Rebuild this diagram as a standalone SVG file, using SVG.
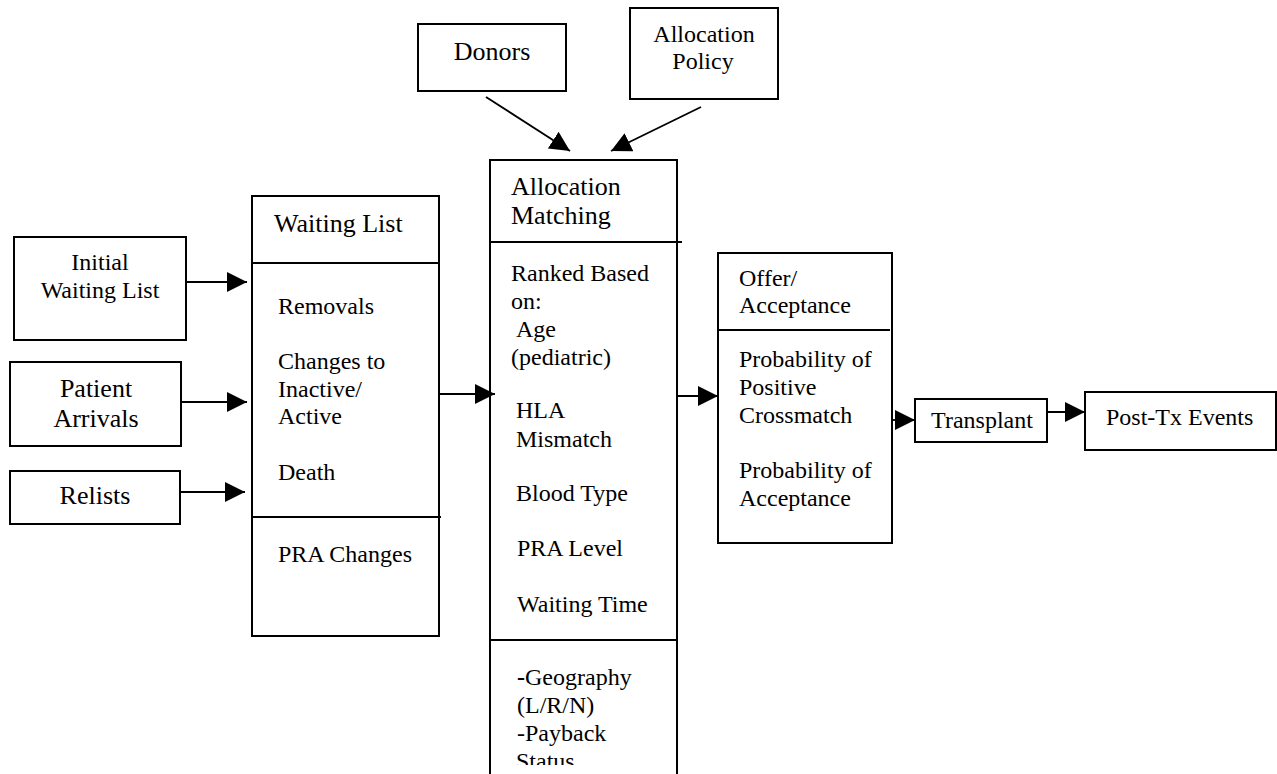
<svg xmlns="http://www.w3.org/2000/svg" width="1277" height="774" viewBox="0 0 1277 774">
<style>
.box{fill:none;stroke:#000;stroke-width:2}
.ln{fill:none;stroke:#000;stroke-width:1.8}
text{font-family:"Liberation Serif","Times New Roman",serif;fill:#000;font-size:24px}
.big{font-size:26px}
.mid{text-anchor:middle}
</style>
<defs>
<marker id="ah" markerUnits="userSpaceOnUse" markerWidth="20" markerHeight="20" refX="20" refY="10" orient="auto">
<path d="M0,0 L20,10 L0,20 z" fill="#000"/>
</marker>
<clipPath id="amclip"><rect x="480" y="640" width="210" height="125"/></clipPath>
</defs>
<rect width="1277" height="774" fill="#fff"/>

<g id="initial-waiting-list">
<rect class="box" x="14" y="237" width="172" height="103"/>
<text class="mid" x="100" y="270">Initial</text>
<text class="mid" x="100" y="298">Waiting List</text>
</g>

<g id="patient-arrivals">
<rect class="box" x="10" y="362" width="171" height="84"/>
<text class="mid big" x="96" y="397">Patient</text>
<text class="mid big" x="96" y="427">Arrivals</text>
</g>

<g id="relists">
<rect class="box" x="10" y="471" width="170" height="53"/>
<text class="mid big" x="95" y="504">Relists</text>
</g>

<g id="waiting-list">
<rect class="box" x="252" y="196" width="187" height="440"/>
<line class="box" x1="252" y1="263" x2="439" y2="263"/>
<line class="box" x1="252" y1="517" x2="441" y2="517"/>
<text class="big" x="274" y="232">Waiting List</text>
<text x="278" y="314">Removals</text>
<text x="278" y="369">Changes to</text>
<text x="278" y="397">Inactive/</text>
<text x="278" y="424">Active</text>
<text x="278" y="480">Death</text>
<text x="278" y="562">PRA Changes</text>
</g>

<g id="donors">
<rect class="box" x="418" y="24" width="148" height="67"/>
<text class="mid big" x="492" y="60">Donors</text>
</g>

<g id="allocation-policy">
<rect class="box" x="630" y="8" width="148" height="91"/>
<text class="mid" x="704" y="42">Allocation</text>
<text class="mid" x="703" y="69">Policy</text>
</g>

<g id="allocation-matching">
<path class="box" d="M490,774 V160 H677 V774"/>
<line class="box" x1="490" y1="242" x2="682" y2="242"/>
<line class="box" x1="490" y1="640" x2="678" y2="640"/>
<text class="big" x="511" y="195">Allocation</text>
<text class="big" x="511" y="224">Matching</text>
<text x="511" y="281">Ranked Based</text>
<text x="511" y="309">on:</text>
<text x="516" y="337">Age</text>
<text x="511" y="365">(pediatric)</text>
<text x="516" y="418">HLA</text>
<text x="516" y="447">Mismatch</text>
<text x="516" y="501">Blood Type</text>
<text x="517" y="556">PRA Level</text>
<text x="517" y="612">Waiting Time</text>
<g clip-path="url(#amclip)">
<text x="517" y="685"><tspan font-weight="bold">-</tspan>Geography</text>
<text x="517" y="713">(L/R/N)</text>
<text x="517" y="741">-Payback</text>
<text x="516" y="769">Status</text>
</g>
</g>

<g id="offer-acceptance">
<rect class="box" x="718" y="253" width="174" height="290"/>
<line class="box" x1="718" y1="330" x2="890" y2="330"/>
<text x="739" y="286">Offer/</text>
<text x="739" y="313">Acceptance</text>
<text x="739" y="367">Probability of</text>
<text x="739" y="395">Positive</text>
<text x="739" y="423">Crossmatch</text>
<text x="739" y="478">Probability of</text>
<text x="739" y="506">Acceptance</text>
</g>

<g id="transplant">
<rect class="box" x="915" y="399" width="132" height="43"/>
<text class="mid" x="982" y="428" font-size="21">Transplant</text>
</g>

<g id="post-tx-events">
<rect class="box" x="1085" y="392" width="191" height="58"/>
<text x="1106" y="425">Post-Tx Events</text>
</g>

<g id="connectors">
<line class="ln" x1="186" y1="282" x2="247" y2="282" marker-end="url(#ah)"/>
<line class="ln" x1="181" y1="402" x2="247" y2="402" marker-end="url(#ah)"/>
<line class="ln" x1="180" y1="492" x2="245" y2="492" marker-end="url(#ah)"/>
<line class="ln" x1="439" y1="394" x2="495" y2="394" marker-end="url(#ah)"/>
<line class="ln" x1="486" y1="97" x2="570" y2="151" marker-end="url(#ah)"/>
<line class="ln" x1="701" y1="107" x2="611" y2="151" marker-end="url(#ah)"/>
<line class="ln" x1="677" y1="396" x2="718" y2="396" marker-end="url(#ah)"/>
<line class="ln" x1="892" y1="420" x2="915" y2="420" marker-end="url(#ah)"/>
<line class="ln" x1="1047" y1="412" x2="1085" y2="412" marker-end="url(#ah)"/>
</g>
</svg>
